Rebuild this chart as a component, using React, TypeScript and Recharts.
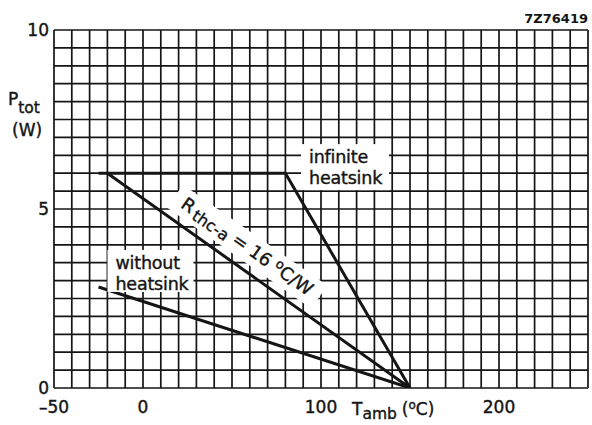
import { CartesianGrid, Line, LineChart, ReferenceDot, XAxis, YAxis } from "recharts";

const FONT = "'DejaVu Sans', Verdana, sans-serif";
const INK = "#151515";

// grid: one line every 10 degC and every 0.5 W
const gridT = [
  -50, -40, -30, -20, -10, 0, 10, 20, 30, 40, 50, 60, 70, 80, 90, 100, 110, 120,
  130, 140, 150, 160, 170, 180, 190, 200, 210, 220, 230, 240, 250,
];
const gridP = [
  0, 0.5, 1, 1.5, 2, 2.5, 3, 3.5, 4, 4.5, 5, 5.5, 6, 6.5, 7, 7.5, 8, 8.5, 9, 9.5, 10,
];
const xTickLabels = [-50, 0, 100, 200];
const yTickLabels = [0, 5, 10];

// derating curves (Tamb in degC, Ptot in W)
const infiniteT = [-25, 80, 150];
const infiniteP = [6, 6, 0];
const rthT = [-20, 150];
const rthP = [6, 0];
const withoutT = [-25, 150];
const withoutP = [2.82, 0];

const toPoints = (ts: number[], ps: number[]) => ts.map((t, i) => ({ t, p: ps[i] }));

const infiniteData = toPoints(infiniteT, infiniteP);
const rthData = toPoints(rthT, rthP);
const withoutData = toPoints(withoutT, withoutP);

const textStyle = {
  fontFamily: FONT,
  fill: INK,
  stroke: INK,
  strokeWidth: 0.4,
};

const XTick = ({ x, y, payload }: any) => {
  if (!xTickLabels.includes(payload.value)) return <g />;
  const v = payload.value as number;
  return (
    <text x={x} y={y + 25} textAnchor="middle" fontSize={17} {...textStyle}>
      {v < 0 ? `\u2013${-v}` : v}
    </text>
  );
};

const YTick = ({ x, y, payload }: any) => {
  if (!yTickLabels.includes(payload.value)) return <g />;
  return (
    <text x={x - 5} y={y + 6} textAnchor="end" fontSize={17} {...textStyle}>
      {payload.value}
    </text>
  );
};

const YTitle = ({ viewBox }: any) => {
  const x = viewBox?.x ?? 0;
  const y = viewBox?.y ?? 30;
  return (
    <g>
      <text x={x + 8} y={y + 75} fontSize={17} {...textStyle}>
        P<tspan dy={8} fontSize={15.5}>tot</tspan>
      </text>
      <text x={x + 12} y={y + 106} fontSize={17} {...textStyle}>
        (W)
      </text>
    </g>
  );
};

const XTitle = ({ viewBox }: any) => {
  const x = viewBox?.x ?? 54;
  const y = viewBox?.y ?? 388;
  return (
    <text x={x + 298} y={y + 27} fontSize={17} {...textStyle}>
      T<tspan dy={4} fontSize={15.5}>amb</tspan>
      <tspan dy={-4} dx={5}>(</tspan>
      <tspan dy={-6} fontSize={12}>o</tspan>
      <tspan dy={6}>C)</tspan>
    </text>
  );
};

const boxLabel = (lines: string[], w: number, h: number) => (props: any) => {
  const { cx, cy } = props;
  return (
    <g>
      <rect x={cx - w / 2} y={cy - h / 2} width={w} height={h} fill="#fff" />
      {lines.map((s, i) => (
        <text
          key={s}
          x={cx - w / 2 + 8}
          y={cy - h / 2 + 19 + i * 21}
          fontSize={17.5}
          letterSpacing={-0.2}
          {...textStyle}
        >
          {s}
        </text>
      ))}
    </g>
  );
};

const RthLabel = (props: any) => {
  const { cx, cy } = props;
  return (
    <g transform={`translate(${cx},${cy}) rotate(35)`}>
      <rect x={-88} y={-14} width={176} height={28} fill="#fff" />
      <text x={0} y={6} textAnchor="middle" fontSize={18} {...textStyle}>
        R<tspan dy={3} dx={3} fontSize={16}>thc-a</tspan>
        <tspan dy={-3}> = 16 </tspan>
        <tspan dy={-6} fontSize={13}>o</tspan>
        <tspan dy={6}>C/W</tspan>
      </text>
    </g>
  );
};

export default function App() {
  return (
    <div style={{ position: "relative", width: 592, height: 425, background: "#fff" }}>
      <style>{"body{margin:0}"}</style>
      <LineChart width={592} height={425} margin={{ top: 30, right: 4, bottom: 0, left: 0 }}>
        <CartesianGrid stroke={INK} strokeWidth={1.7} />
        <XAxis
          type="number"
          dataKey="t"
          domain={[-50, 250]}
          ticks={gridT}
          interval={0}
          allowDataOverflow
          height={37}
          axisLine={false}
          tickLine={false}
          tickSize={0}
          tickMargin={0}
          tick={<XTick />}
          label={{ content: XTitle }}
        />
        <YAxis
          type="number"
          dataKey="p"
          domain={[0, 10]}
          ticks={gridP}
          interval={0}
          allowDataOverflow
          width={54}
          axisLine={false}
          tickLine={false}
          tickSize={0}
          tickMargin={0}
          tick={<YTick />}
          label={{ content: YTitle }}
        />
        <ReferenceDot
          x={113.5}
          y={6.17}
          r={0}
          ifOverflow="visible"
          shape={boxLabel(["infinite", "heatsink"], 88, 46)}
        />
        <ReferenceDot
          x={4.2}
          y={3.27}
          r={0}
          ifOverflow="visible"
          shape={boxLabel(["without", "heatsink"], 86, 42)}
        />
        <ReferenceDot x={58.5} y={3.95} r={0} ifOverflow="visible" shape={RthLabel} />
        <Line
          data={infiniteData}
          dataKey="p"
          type="linear"
          stroke={INK}
          strokeWidth={3}
          dot={false}
          isAnimationActive={false}
        />
        <Line
          data={rthData}
          dataKey="p"
          type="linear"
          stroke={INK}
          strokeWidth={3}
          dot={false}
          isAnimationActive={false}
        />
        <Line
          data={withoutData}
          dataKey="p"
          type="linear"
          stroke={INK}
          strokeWidth={3}
          dot={false}
          isAnimationActive={false}
        />
      </LineChart>
      <div
        style={{
          position: "absolute",
          right: 4,
          top: 11,
          fontFamily: FONT,
          fontSize: 13,
          fontWeight: "bold",
          color: INK,
        }}
      >
        7Z76419
      </div>
    </div>
  );
}
